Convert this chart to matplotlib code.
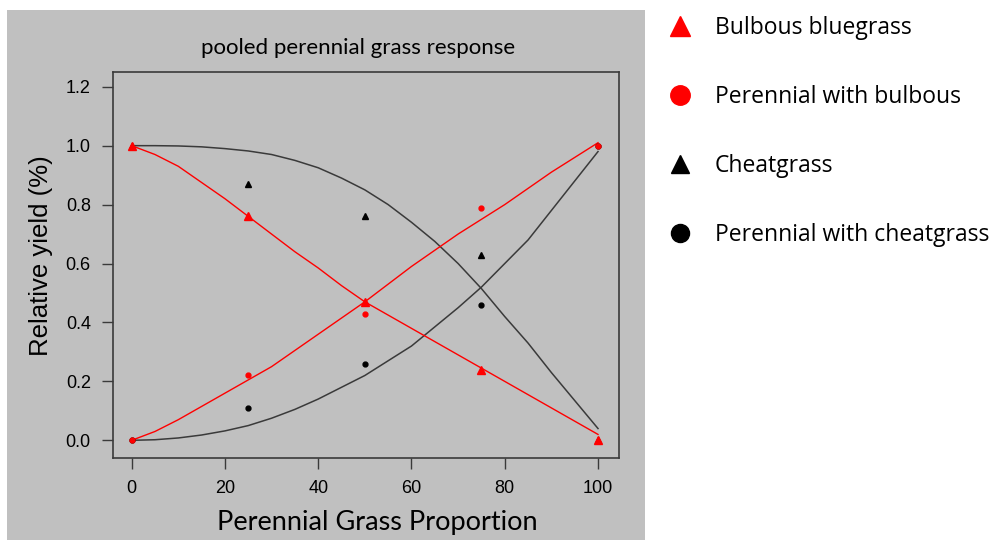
import matplotlib.pyplot as plt
from matplotlib.lines import Line2D
from matplotlib.patches import Rectangle

# observed points
x_obs = [0, 25, 50, 75, 100]
bulbous = [1.0, 0.76, 0.47, 0.24, 0.0]
perennial_bulbous = [0.0, 0.22, 0.43, 0.79, 1.0]
cheat = [1.0, 0.87, 0.76, 0.63, 0.0]
perennial_cheat = [0.0, 0.11, 0.26, 0.46, 1.0]

# fitted curves, every 5 units
x_fit = [0, 5, 10, 15, 20, 25, 30, 35, 40, 45, 50,
         55, 60, 65, 70, 75, 80, 85, 90, 95, 100]
fit_bulbous = [1.0, 0.97, 0.93, 0.875, 0.82, 0.76, 0.70, 0.64, 0.585, 0.525, 0.47,
               0.425, 0.38, 0.335, 0.29, 0.245, 0.20, 0.155, 0.11, 0.065, 0.02]
fit_per_bulbous = [0.0, 0.03, 0.07, 0.115, 0.16, 0.205, 0.25, 0.305, 0.36, 0.415, 0.47,
                   0.53, 0.59, 0.645, 0.70, 0.75, 0.80, 0.855, 0.91, 0.96, 1.01]
fit_cheat = [1.0, 1.0, 0.999, 0.996, 0.99, 0.982, 0.97, 0.95, 0.925, 0.89, 0.85,
             0.80, 0.74, 0.675, 0.60, 0.515, 0.42, 0.33, 0.23, 0.135, 0.04]
fit_per_cheat = [0.0, 0.002, 0.008, 0.018, 0.032, 0.05, 0.075, 0.105, 0.14, 0.18, 0.22,
                 0.27, 0.32, 0.385, 0.45, 0.52, 0.60, 0.68, 0.78, 0.88, 0.98]

GRAY = "#c0c0c0"
RED = "#ff0000"
DARK = "#3a3a3a"

fig = plt.figure(figsize=(9.92, 5.40), dpi=100)
fig.patches.append(Rectangle((7/992, 0), 638/992, 530/540, transform=fig.transFigure,
                             facecolor=GRAY, edgecolor="none", zorder=-10))

ax = fig.add_axes([113/992, (540-458)/540, 506/992, 386/540])
ax.set_facecolor(GRAY)

ax.plot(x_fit, fit_cheat, color=DARK, lw=1.1)
ax.plot(x_fit, fit_per_cheat, color=DARK, lw=1.1)
ax.plot(x_fit, fit_bulbous, color=RED, lw=1.0)
ax.plot(x_fit, fit_per_bulbous, color=RED, lw=1.0)

ax.plot(x_obs, cheat, "^", color="black", ms=5, ls="none")
ax.plot(x_obs, perennial_cheat, "o", color="black", ms=3.5, ls="none")
ax.plot(x_obs, bulbous, "^", color=RED, ms=6, ls="none")
ax.plot(x_obs, perennial_bulbous, "o", color=RED, ms=3.5, ls="none")

ax.set_xlim(-4, 104.5)
ax.set_ylim(-0.06, 1.25)
ax.set_xticks([0, 20, 40, 60, 80, 100])
ax.set_yticks([0.0, 0.2, 0.4, 0.6, 0.8, 1.0, 1.2])
ax.set_yticklabels(["0.0", "0.2", "0.4", "0.6", "0.8", "1.0", "1.2"])
ax.tick_params(direction="out", length=8, width=1, color=DARK, labelsize=13,
               pad=8)
for lab in ax.get_xticklabels() + ax.get_yticklabels():
    lab.set_fontfamily("Liberation Sans")
for s in ax.spines.values():
    s.set_color(DARK)
    s.set_linewidth(1.2)

ax.set_title("pooled perennial grass response", fontsize=16, family="Lato",
             pad=13, x=0.484)
ax.set_xlabel("Perennial Grass Proportion", fontsize=19.5, family="Lato")
ax.xaxis.set_label_coords(0.522, -0.135)
ax.set_ylabel("Relative yield (%)", fontsize=18.5, family="Liberation Sans")
ax.yaxis.set_label_coords(-0.118, 0.523)

handles = [
    Line2D([], [], marker="^", color=RED, ls="none", ms=14),
    Line2D([], [], marker="o", color=RED, ls="none", ms=14),
    Line2D([], [], marker="^", color="black", ls="none", ms=13),
    Line2D([], [], marker="o", color="black", ls="none", ms=13),
]
labels = ["Bulbous bluegrass", "Perennial with bulbous", "Cheatgrass",
          "Perennial with cheatgrass"]
fig.legend(handles, labels, loc="upper left", bbox_to_anchor=(636/992, 1.008),
           frameon=False, labelspacing=1.96, handletextpad=0.55,
           prop={"family": "Open Sans", "size": 16.5})

fig.savefig("out.png", dpi=100, facecolor="white")
